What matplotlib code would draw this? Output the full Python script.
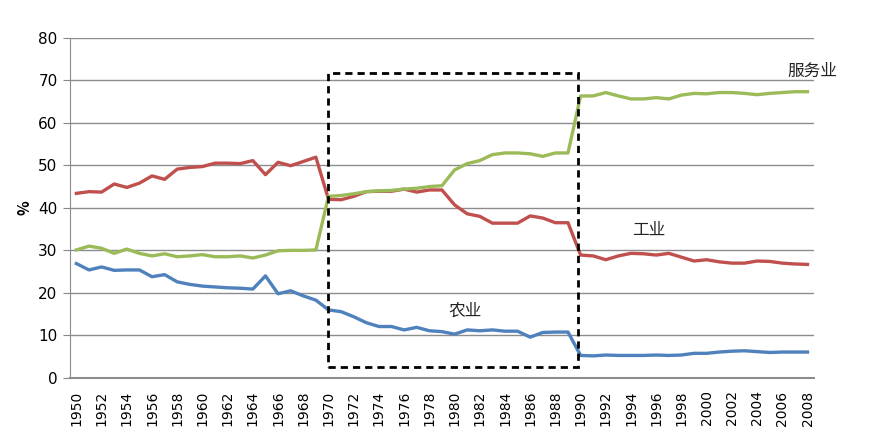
import matplotlib
matplotlib.use("Agg")
import matplotlib.pyplot as plt
from matplotlib.patches import Rectangle

plt.rcParams['font.family'] = ['Noto Sans CJK SC', 'DejaVu Sans']

years = list(range(1950, 2009))

# 农业 (agriculture)
agri = [26.9, 25.4, 26.1, 25.3, 25.4, 25.4, 23.8, 24.3, 22.6, 22.0,
        21.6, 21.4, 21.2, 21.1, 20.9, 24.0, 19.8, 20.5, 19.3, 18.3,
        16.0, 15.6, 14.4, 13.0, 12.1, 12.1, 11.3, 11.9, 11.1, 10.9,
        10.3, 11.3, 11.1, 11.3, 11.0, 11.0, 9.6, 10.7, 10.8, 10.8,
        5.3, 5.2, 5.4, 5.3, 5.3, 5.3, 5.4, 5.3, 5.4, 5.8,
        5.8, 6.1, 6.3, 6.4, 6.2, 6.0, 6.1, 6.1, 6.1]

# 工业 (industry)
indu = [43.4, 43.8, 43.7, 45.6, 44.8, 45.8, 47.5, 46.7, 49.1, 49.5,
        49.7, 50.5, 50.5, 50.4, 51.1, 47.8, 50.7, 49.9, 50.9, 51.9,
        42.0, 41.9, 42.7, 43.8, 43.9, 43.9, 44.4, 43.7, 44.2, 44.2,
        40.7, 38.6, 38.0, 36.4, 36.4, 36.4, 38.1, 37.6, 36.5, 36.5,
        28.9, 28.7, 27.8, 28.7, 29.3, 29.2, 28.9, 29.3, 28.4, 27.5,
        27.8, 27.3, 27.0, 27.0, 27.5, 27.4, 27.0, 26.8, 26.7]

# 服务业 (services)
serv = [30.1, 31.0, 30.5, 29.3, 30.3, 29.3, 28.7, 29.2, 28.5, 28.7,
        29.0, 28.5, 28.5, 28.7, 28.2, 28.9, 29.9, 30.0, 30.0, 30.1,
        42.7, 42.9, 43.3, 43.8, 44.0, 44.1, 44.4, 44.6, 45.0, 45.2,
        48.9, 50.4, 51.1, 52.5, 52.9, 52.9, 52.7, 52.1, 52.9, 52.9,
        66.3, 66.3, 67.1, 66.3, 65.6, 65.6, 65.9, 65.6, 66.5, 66.9,
        66.8, 67.1, 67.1, 66.9, 66.6, 66.9, 67.1, 67.3, 67.3]

fig = plt.figure(figsize=(8.76, 4.38), dpi=100)
ax = fig.add_axes([0.080, 0.137, 0.849, 0.777])

ax.plot(years, agri, color='#4F81BD', lw=2.4, solid_joinstyle='round')
ax.plot(years, indu, color='#C0504D', lw=2.4, solid_joinstyle='round')
ax.plot(years, serv, color='#9BBB59', lw=2.4, solid_joinstyle='round')

ax.set_xlim(1949.5, 2008.5)
ax.set_ylim(0, 80)
ax.set_yticks(range(0, 81, 10))
ax.set_xticks(range(1950, 2009, 2))
ax.set_xticklabels([str(y) for y in range(1950, 2009, 2)], rotation=90,
                   fontsize=10, family='DejaVu Sans')
ax.tick_params(axis='y', labelsize=11, length=5, color='#878787', pad=4)
ax.tick_params(axis='x', length=0, pad=9)
for lab in ax.get_yticklabels():
    lab.set_family('DejaVu Sans')

ax.grid(axis='y', color='#8C8C8C', lw=1.0)
ax.set_axisbelow(True)
for s in ['top', 'right']:
    ax.spines[s].set_visible(False)
ax.spines['left'].set_color('#8C8C8C')
ax.spines['bottom'].set_color('#8C8C8C')
ax.spines['bottom'].set_linewidth(1.5)

ax.set_ylabel('%', fontsize=11, fontweight='bold', labelpad=4)

# 虚线框
box = Rectangle((1970, 2.5), 19.8, 69.2, fill=False, ls=(0, (2.6, 1.8)),
                lw=2.0, ec='black', zorder=5)
ax.add_patch(box)

ax.text(2008.4, 72.0, '服务业', fontsize=12, ha='center', va='center', color='#222222')
ax.text(1995.4, 34.8, '工业', fontsize=12, ha='center', va='center', color='#222222')
ax.text(1980.8, 15.7, '农业', fontsize=12, ha='center', va='center', color='#222222')

fig.savefig('out.png', dpi=100)
